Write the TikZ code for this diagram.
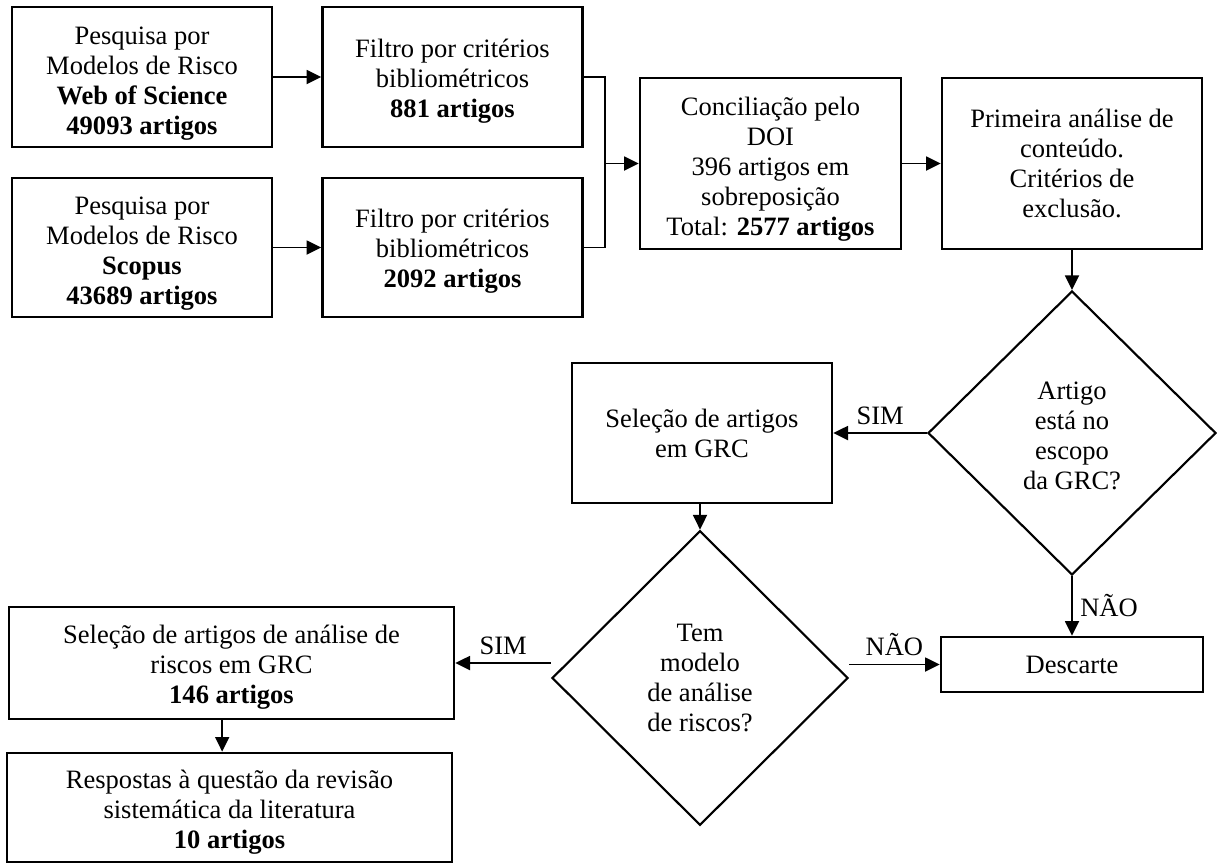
\documentclass[tikz,border=0pt]{standalone}
\usepackage{fontspec}
\setmainfont{Liberation Serif}
\usetikzlibrary{arrows.meta,shapes.geometric,calc}

% invisible strut on a first line, to lower a text block inside its box
\newcommand\toppad[1]{\rule{0pt}{#1}}

\begin{document}
\begin{tikzpicture}[x=0.75pt,y=-0.75pt,
  every node/.style={font=\fontsize{19.9pt}{22.5pt}\selectfont},
  box/.style={draw, line width=2pt, rectangle, align=center, inner sep=0pt},
  decision/.style={draw, line width=1.6pt, diamond, align=center, inner sep=0pt},
  arr/.style={line width=1.4pt, -{Triangle[length=11pt,width=10.5pt]}},
  link/.style={line width=1.4pt},
  lab/.style={inner sep=5.5pt}]

\useasboundingbox[fill=white] (0,0) rectangle (1217,865);

% search and bibliometric filtering
\node[box, minimum width=195pt, minimum height=105pt] (a) at (142,77)
  {\toppad{23pt}Pesquisa por\\Modelos de Risco\\\textbf{Web of Science}\\\textbf{49093 artigos}};
\node[box, minimum width=195pt, minimum height=105pt] (b) at (452.5,77)
  {\toppad{20pt}Filtro por critérios\\bibliométricos\\\textbf{881 artigos}};
\node[box, minimum width=195pt, minimum height=104.25pt] (c) at (142,247.5)
  {\toppad{23pt}Pesquisa por\\Modelos de Risco\\\textbf{Scopus}\\\textbf{43689 artigos}};
\node[box, minimum width=195pt, minimum height=104.25pt] (d) at (452.5,247.5)
  {\toppad{20pt}Filtro por critérios\\bibliométricos\\\textbf{2092 artigos}};

% DOI reconciliation and first content analysis
\node[box, minimum width=195.75pt, minimum height=128.25pt] (e) at (770.5,163.5)
  {\toppad{22pt}Conciliação pelo\\DOI\\396 artigos em\\sobreposição\\Total: \textbf{2577 artigos}};
\node[box, minimum width=195pt, minimum height=128.25pt] (f) at (1072,163.5)
  {Primeira análise de\\conteúdo.\\Critérios de\\exclusão.};

% decisions
\node[decision, minimum width=216pt, minimum height=213pt] (d1) at (1072,433)
  {\toppad{17pt}Artigo\\está no\\escopo\\da GRC?};
\node[box, minimum width=195pt, minimum height=105pt] (g) at (702,433)
  {Seleção de artigos\\em GRC};
\node[decision, minimum width=222pt, minimum height=221pt] (d2) at (700,678)
  {Tem\\modelo\\de análise\\de riscos?};
\node[box, minimum width=196.5pt, minimum height=41.25pt] (desc) at (1072,664.5)
  {Descarte};

% final selection
\node[box, minimum width=333.75pt, minimum height=84pt] (h) at (231.5,663)
  {\toppad{20pt}Seleção de artigos de análise de\\riscos em GRC\\\textbf{146 artigos}};
\node[box, minimum width=333.75pt, minimum height=81.75pt] (i) at (229.5,807.5)
  {\toppad{20.5pt}Respostas à questão da revisão\\sistemática da literatura\\\textbf{10 artigos}};

% connectors
\draw[arr] (a.east) -- (b.west);
\draw[arr] (c.east) -- (d.west);
\path (e.west) ++(-34,0) coordinate (m);
\draw[link] (b.east) -| (m) |- (d.east);
\draw[arr] (m) -- (e.west);
\draw[arr] (e.east) -- (f.west);
\draw[arr] (f.south) -- (d1.north);
\draw[arr] (d1.west) -- node[lab, above] {SIM} (g.east);
\draw[arr] (d1.south) -- node[lab, right] {NÃO} (desc.north);
\draw[arr] (d2.north |- g.south) -- (d2.north);
\draw[arr] (d2.east |- desc.west) -- node[lab, above] {NÃO} (desc.west);
\draw[arr] (d2.west |- h.east) -- node[lab, above] {SIM} (h.east);
\draw[arr] ([xshift=-7pt]h.south) -- ([xshift=-7pt]h.south |- i.north);

\end{tikzpicture}
\end{document}
